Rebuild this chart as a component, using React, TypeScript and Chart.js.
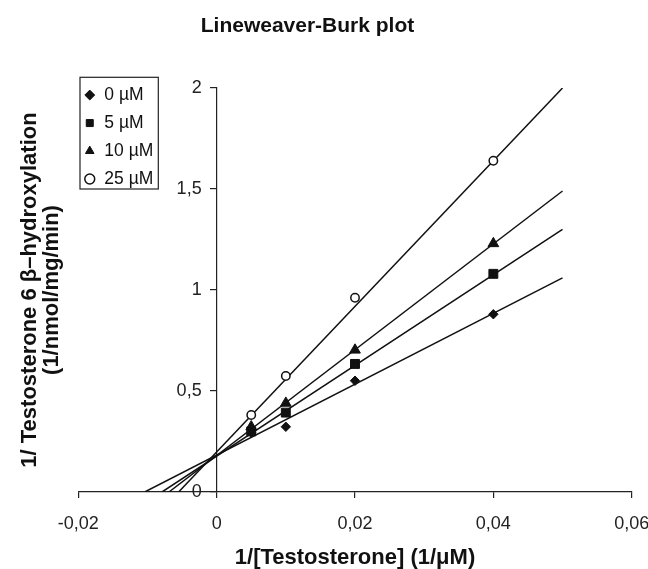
import React, { useEffect, useRef } from 'react';
import { Chart, registerables } from 'chart.js';

Chart.register(...registerables);

// ---- data ----
const seriesLabels = ['0 µM', '5 µM', '10 µM', '25 µM'];
const invSubstrate = [0.005, 0.01, 0.02, 0.04];
const invRate0 = [0.294, 0.323, 0.551, 0.88];
const invRate5 = [0.3, 0.393, 0.634, 1.08];
const invRate10 = [0.323, 0.44, 0.703, 1.23];
const invRate25 = [0.381, 0.574, 0.962, 1.64];

// fitted lines: [x-intercept, end], [0, value at end]
const fitX0 = [-0.0104, 0.05];
const fitY0 = [0, 1.06];
const fitX5 = [-0.0079, 0.05];
const fitY5 = [0, 1.3];
const fitX10 = [-0.0069, 0.05];
const fitY10 = [0, 1.49];
const fitX25 = [-0.0055, 0.05];
const fitY25 = [0, 2.0];

const xTickValues = [-0.02, 0, 0.02, 0.04, 0.06];
const yTickValues = [0, 0.5, 1, 1.5, 2];

const chartTitle = 'Lineweaver-Burk plot';
const xTitle = '1/[Testosterone] (1/μM)';
const yTitleLines = ['1/ Testosterone 6 β–hydroxylation', '(1/nmol/mg/min)'];

const fmt = (v: number) => String(v).replace('.', ',');
const toPoints = (xs: number[], ys: number[]) => xs.map((x, i) => ({ x, y: ys[i] }));

export default function App() {
  const ref = useRef<HTMLCanvasElement>(null);

  useEffect(() => {
    if (!ref.current) return;
    Chart.defaults.font.family = "'Liberation Sans', Arial, Helvetica, sans-serif";
    const ink = '#111';
    const axisInk = '#222';

    const scatter = (label: string, ys: number[], style: string, radius: number, fill: string, bw: number) => ({
      type: 'scatter' as const,
      label,
      data: toPoints(invSubstrate, ys),
      pointStyle: style,
      pointRadius: radius,
      pointHoverRadius: radius,
      backgroundColor: fill,
      borderColor: ink,
      borderWidth: bw,
      showLine: false,
      order: 0,
    });
    const fit = (xs: number[], ys: number[]) => ({
      type: 'line' as const,
      label: '',
      data: toPoints(xs, ys),
      borderColor: ink,
      backgroundColor: ink,
      borderWidth: 1.5,
      pointRadius: 0,
      pointHoverRadius: 0,
      showLine: true,
      fill: false,
      order: 1,
    });

    const tweak = {
      id: 'tweak',
      afterLayout(chart: any) {
        const t = chart.titleBlock;
        if (t) {
          t.left = 0;
          t.right = 615;
          t.width = 615;
        }
        const lg = chart.legend;
        if (lg) {
          lg.left = 73.4;
          lg.right = lg.left + lg.width;
          lg.top = 75.8;
          lg.bottom = 492;
        }
      },
      afterDraw(chart: any) {
        const c = chart.ctx;
        c.save();
        c.strokeStyle = axisInk;
        c.lineWidth = 1.2;
        c.strokeRect(80, 77.3, 78.3, 111.7);
        c.restore();
      },
    };

    const chart = new Chart(ref.current, {
      type: 'scatter',
      data: {
        datasets: [
          scatter(seriesLabels[0], invRate0, 'rectRot', 4.7, ink, 1),
          scatter(seriesLabels[1], invRate5, 'rect', 6.3, ink, 1),
          scatter(seriesLabels[2], invRate10, 'triangle', 6.2, ink, 1),
          scatter(seriesLabels[3], invRate25, 'circle', 4.2, '#fff', 1.5),
          fit(fitX0, fitY0),
          fit(fitX5, fitY5),
          fit(fitX10, fitY10),
          fit(fitX25, fitY25),
        ] as any,
      },
      options: {
        animation: false,
        responsive: false,
        devicePixelRatio: 1,
        layout: { padding: { top: 0, left: 0, right: 16.3, bottom: 0 } },
        plugins: {
          tooltip: { enabled: false },
          title: {
            display: true,
            text: chartTitle,
            color: ink,
            font: { size: 21, weight: 'bold', lineHeight: 1.2 },
            padding: { top: 13.6, bottom: 49.2 },
          },
          legend: {
            display: true,
            position: 'chartArea',
            align: 'start',
            labels: {
              usePointStyle: true,
              boxWidth: 11.7,
              boxHeight: 7,
              padding: 10.5,
              color: ink,
              font: { size: 17.5 },
              filter: (item: any) => item.datasetIndex < 4,
            },
          },
        },
        scales: {
          x: {
            type: 'linear',
            position: 'bottom',
            min: -0.02,
            max: 0.06,
            afterBuildTicks: (s: any) => {
              s.ticks = xTickValues.map((v) => ({ value: v }));
            },
            afterFit: (s: any) => {
              s.height = 77;
              s.paddingLeft = 0;
              s.paddingRight = 0;
            },
            grid: { drawOnChartArea: false, drawTicks: true, tickLength: 6, color: axisInk, lineWidth: 1.2 },
            border: { display: true, color: axisInk, width: 1.2 },
            ticks: {
              font: { size: 18 },
              color: axisInk,
              padding: 15,
              maxRotation: 0,
              autoSkip: false,
              callback: (v: any) => fmt(Number(v)),
            },
            title: {
              display: true,
              text: xTitle,
              color: ink,
              font: { size: 22, weight: 'bold', lineHeight: 1 },
              padding: { top: 0, bottom: 0 },
            },
          },
          y: {
            type: 'linear',
            position: { x: 0 },
            min: 0,
            max: 2,
            afterBuildTicks: (s: any) => {
              s.ticks = yTickValues.map((v) => ({ value: v }));
            },
            grid: { drawOnChartArea: false, drawTicks: true, tickLength: 6, color: axisInk, lineWidth: 1.2 },
            border: { display: true, color: axisInk, width: 1.2 },
            ticks: {
              font: { size: 18 },
              color: axisInk,
              padding: 0,
              callback: (v: any) => fmt(Number(v)) + '   ',
            },
          },
          yTitle: {
            type: 'linear',
            position: 'left',
            display: true,
            min: 0,
            max: 1,
            afterFit: (s: any) => {
              s.width = 78.3;
            },
            grid: { display: false, drawTicks: false },
            border: { display: false },
            ticks: { display: false },
            title: {
              display: true,
              text: yTitleLines,
              color: ink,
              font: { size: 22, weight: 'bold', lineHeight: 1 },
              padding: { top: 19, bottom: 0 },
            },
          },
        },
      } as any,
      plugins: [tweak],
    });

    return () => chart.destroy();
  }, []);

  return (
    <div style={{ position: 'absolute', left: 0, top: 0, width: 648, height: 569, background: '#fff' }}>
      <canvas ref={ref} width={648} height={569} />
    </div>
  );
}
